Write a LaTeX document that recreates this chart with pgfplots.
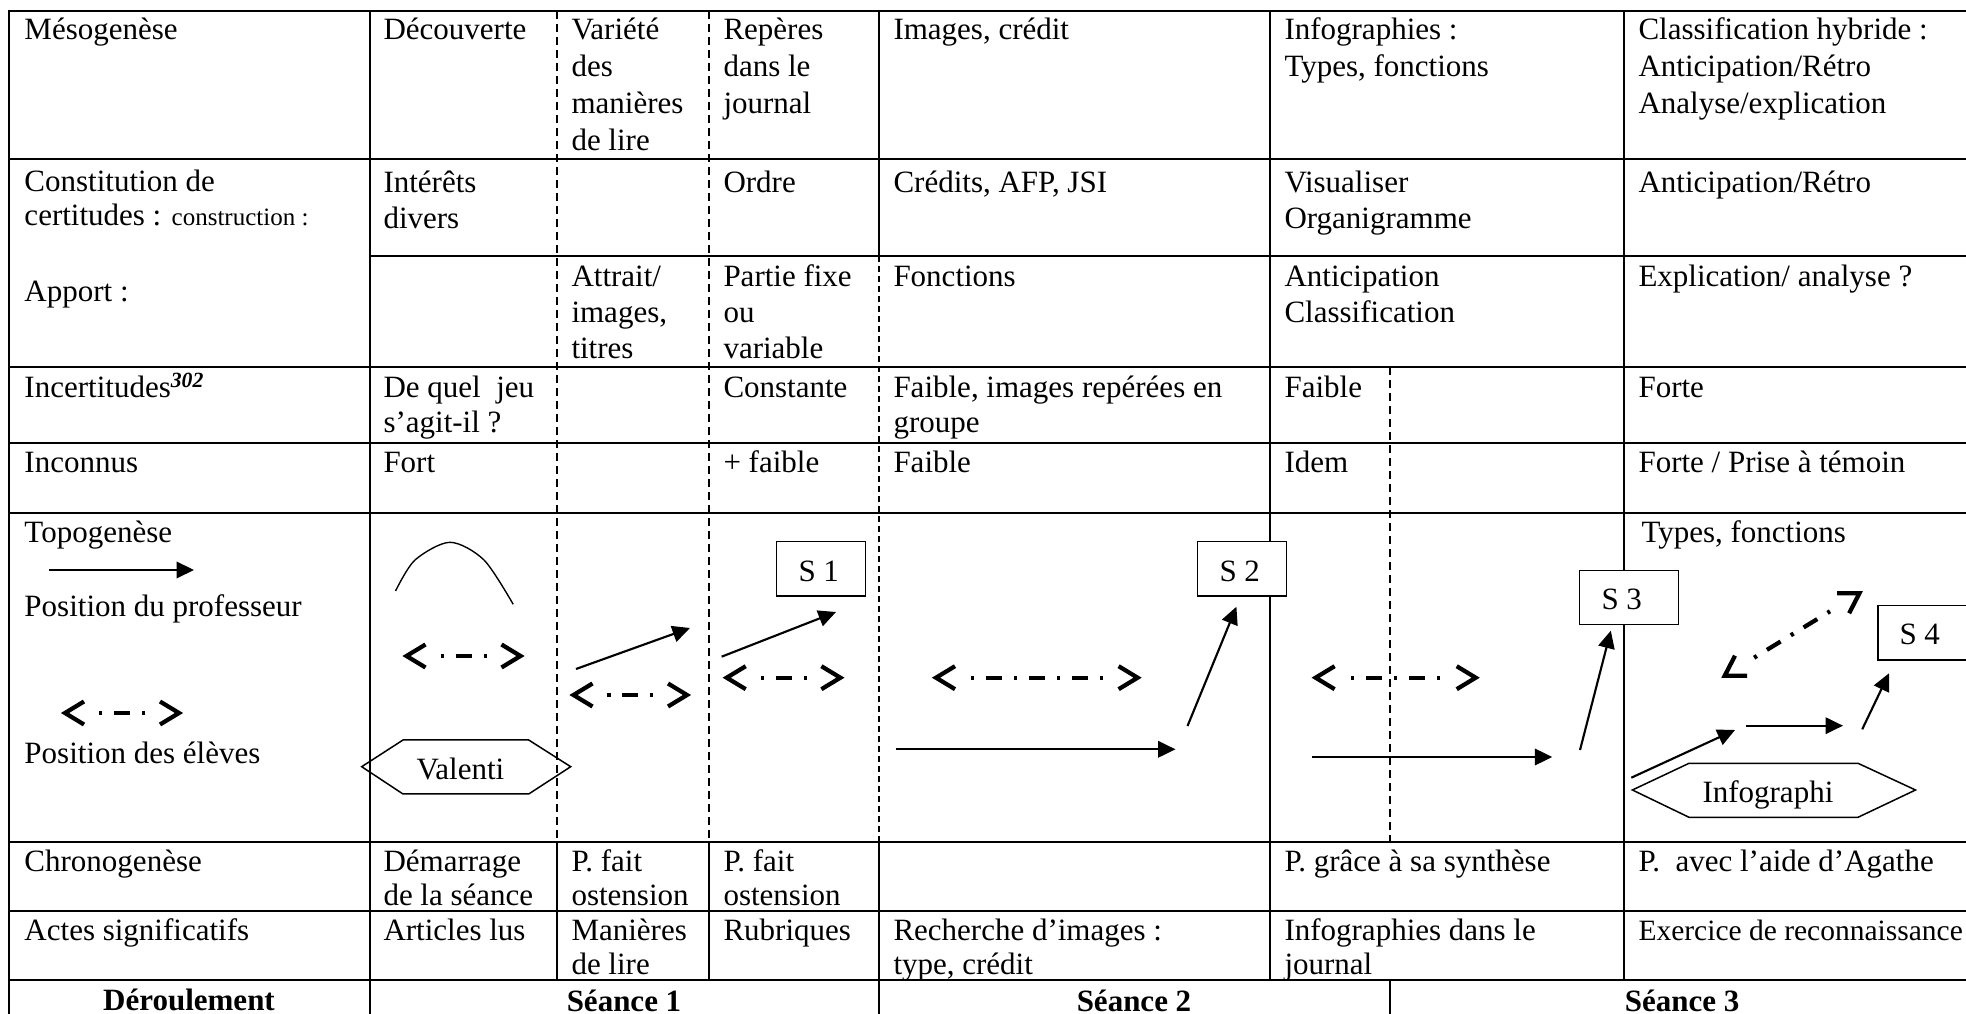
\documentclass[border=0pt]{standalone}
\usepackage{fontspec}
\setmainfont{Liberation Serif}
\usepackage{pgfplots}
\pgfplotsset{compat=1.18}
\usetikzlibrary{arrows.meta}
\newcommand{\tx}[3]{\node[anchor=base west,inner sep=0pt] at (axis cs:#1,#2) {#3};}
\newcommand{\tc}[3]{\node[anchor=base,inner sep=0pt] at (axis cs:#1,#2) {#3};}
\tikzset{
  sarrow/.style={black, line width=0.85pt, -{Triangle[length=7pt,width=6.6pt]}},
  shaft/.style={black, line width=1.7pt, dash pattern=on 1.3pt off 4.7pt on 6.4pt off 4.8pt},
  chev/.style={black, line width=1.7pt, line join=miter},
  thindash/.style={black, line width=0.5pt, dash pattern=on 3.2pt off 2pt},
}
\begin{document}
\begin{tikzpicture}[font=\fontsize{12.4}{14}\selectfont]
\begin{axis}[name=ax, hide axis, scale only axis, width=786.4pt, height=405.6pt,
  xmin=0, xmax=1966, ymin=0, ymax=1014, y dir=reverse, clip=true]

% ---- table grid, solid lines
\addplot[black, line width=0.95pt, line cap=rect, unbounded coords=jump] coordinates {
(9,11)(1990,11) (nan,nan)
(9,159)(1990,159) (nan,nan)
(370,256)(1990,256) (nan,nan)
(9,367)(1990,367) (nan,nan)
(9,443)(1990,443) (nan,nan)
(9,513)(1990,513) (nan,nan)
(9,842)(1990,842) (nan,nan)
(9,911)(1990,911) (nan,nan)
(9,980)(1990,980) (nan,nan)
(9,11)(9,1030) (nan,nan)
(370,11)(370,1030) (nan,nan)
(879,11)(879,256) (nan,nan)
(879,842)(879,1030) (nan,nan)
(1270,11)(1270,980) (nan,nan)
(1624,11)(1624,980) (nan,nan)
(557,842)(557,980) (nan,nan)
(709,842)(709,980) (nan,nan)
(1390,980)(1390,1030)
};
% ---- dashed lines
\addplot[thindash] coordinates {(557,11)(557,842)};
\addplot[thindash] coordinates {(709,11)(709,842)};
\addplot[black, line width=0.9pt, dash pattern=on 2.4pt off 1.6pt] coordinates {(879,256)(879,842)};
\addplot[thindash] coordinates {(1390,367)(1390,842)};

% ---- left column
\tx{24}{40}{Mésogenèse}
\tx{24}{192}{Constitution de}
\tx{24}{226}{certitudes : {\fontsize{10}{12}\selectfont construction :}}
\tx{24}{302}{Apport :}
\tx{24}{398}{Incertitudes\textsuperscript{\textbf{\textit{302}}}}
\tx{24}{473}{Inconnus}
\tx{24}{543}{Topogenèse}
\tx{24}{617}{Position du professeur}
\tx{24}{763}{Position des élèves}
\tx{24}{871}{Chronogenèse}
\tx{24}{940}{Actes significatifs}
\tc{189}{1010}{\textbf{Déroulement}}

% ---- column A
\tx{383}{40}{Découverte}
\tx{383}{193}{Intérêts}
\tx{383}{229}{divers}
\tx{383}{398}{De quel~ jeu}
\tx{383}{433}{s’agit-il ?}
\tx{383}{473}{Fort}
\tx{383}{871}{Démarrage}
\tx{383}{905}{de la séance}
\tx{383}{940}{Articles lus}

% ---- column B
\tx{571}{40}{Variété}
\tx{571}{77}{des}
\tx{571}{114}{manières}
\tx{571}{151}{de lire}
\tx{571}{287}{Attrait/}
\tx{571}{323}{images,}
\tx{571}{359}{titres}
\tx{571}{871}{P. fait}
\tx{571}{905}{ostension}
\tx{571}{940}{Manières}
\tx{571}{974}{de lire}

% ---- column C
\tx{723}{40}{Repères}
\tx{723}{77}{dans le}
\tx{723}{114}{journal}
\tx{723}{193}{Ordre}
\tx{723}{287}{Partie fixe}
\tx{723}{323}{ou}
\tx{723}{359}{variable}
\tx{723}{398}{Constante}
\tx{723}{473}{+ faible}
\tx{723}{871}{P. fait}
\tx{723}{905}{ostension}
\tx{723}{940}{Rubriques}

% ---- column D
\tx{893}{40}{Images, crédit}
\tx{893}{193}{Crédits, AFP, JSI}
\tx{893}{287}{Fonctions}
\tx{893}{398}{Faible, images repérées en}
\tx{893}{433}{groupe}
\tx{893}{473}{Faible}
\tx{893}{940}{Recherche d’images :}
\tx{893}{974}{type, crédit}

% ---- column E
\tx{1284}{40}{Infographies :}
\tx{1284}{77}{Types, fonctions}
\tx{1284}{193}{Visualiser}
\tx{1284}{229}{Organigramme}
\tx{1284}{287}{Anticipation}
\tx{1284}{323}{Classification}
\tx{1284}{398}{Faible}
\tx{1284}{473}{Idem}
\tx{1284}{871}{P. grâce à sa synthèse}
\tx{1284}{940}{Infographies dans le}
\tx{1284}{974}{journal}

% ---- column F
\tx{1638}{40}{Classification hybride :}
\tx{1638}{77}{Anticipation/Rétro}
\tx{1638}{114}{Analyse/explication}
\tx{1638}{193}{Anticipation/Rétro}
\tx{1638}{287}{Explication/ analyse ?}
\tx{1638}{398}{Forte}
\tx{1638}{473}{Forte / Prise à témoin}
\tx{1641}{543}{Types, fonctions}
\tx{1638}{871}{P.~ avec l’aide d’Agathe}
\tx{1638}{940}{{\fontsize{11.8}{14}\selectfont Exercice de reconnaissance}}

% ---- bottom row
\tc{624}{1011}{\textbf{Séance 1}}
\tc{1134}{1011}{\textbf{Séance 2}}
\tc{1682}{1011}{\textbf{Séance 3}}

% ---- Topogenese diagrams: arc
\addplot[black, line width=0.55pt, smooth] coordinates {(395.5,591) (415,560) (450,542.3) (484,560) (513.2,604.3)};

% ---- solid arrows
\addplot[sarrow] coordinates {(49,570) (194,570)};
\addplot[sarrow] coordinates {(576,669) (690,628)};
\addplot[sarrow] coordinates {(721.6,656.7) (836,612)};
\addplot[sarrow] coordinates {(895.5,749.3) (1175.5,749.3)};
\addplot[sarrow] coordinates {(1187.5,726) (1236.4,606.7)};
\addplot[sarrow] coordinates {(1312,757) (1552.3,757)};
\addplot[sarrow] coordinates {(1580,750) (1610.8,630.7)};
\addplot[sarrow] coordinates {(1631.3,777.7) (1735,730)};
\addplot[sarrow] coordinates {(1746,725.7) (1843,725.7)};
\addplot[sarrow] coordinates {(1862.2,729.3) (1889,673.3)};

% ---- dash-dot double arrows: shafts
\addplot[shaft] coordinates {(99,713) (145,713)};
\addplot[shaft] coordinates {(440.5,656) (486.5,656)};
\addplot[shaft] coordinates {(607.25,695) (653.25,695)};
\addplot[shaft] coordinates {(760.5,677.7) (806.5,677.7)};
\addplot[shaft] coordinates {(970.8,677.7) (1102.8,677.7)};
\addplot[shaft] coordinates {(1351.1,677.7) (1440.1,677.7)};
\addplot[shaft] coordinates {(1754.1,657.7) (1830.0,611.3)};
% ---- chevrons
\addplot[chev] coordinates {(84,701.5) (65,713) (84,724.5)};
\addplot[chev] coordinates {(160,701.5) (179,713) (160,724.5)};
\addplot[chev] coordinates {(425.5,644.5) (406.5,656) (425.5,667.5)};
\addplot[chev] coordinates {(501.5,644.5) (520.5,656) (501.5,667.5)};
\addplot[chev] coordinates {(592.5,683.5) (573.5,695) (592.5,706.5)};
\addplot[chev] coordinates {(668,683.5) (687,695) (668,706.5)};
\addplot[chev] coordinates {(745.7,666.2) (726.7,677.7) (745.7,689.2)};
\addplot[chev] coordinates {(821.4,666.2) (840.4,677.7) (821.4,689.2)};
\addplot[chev] coordinates {(955,666.2) (936,677.7) (955,689.2)};
\addplot[chev] coordinates {(1118.6,666.2) (1137.6,677.7) (1118.6,689.2)};
\addplot[chev] coordinates {(1334.6,666.2) (1315.6,677.7) (1334.6,689.2)};
\addplot[chev] coordinates {(1456.7,666.2) (1475.7,677.7) (1456.7,689.2)};
\addplot[chev] coordinates {(1747.0,675.8) (1724.7,675.7) (1735.0,655.7)};
\addplot[chev] coordinates {(1849.1,613.3) (1859.4,593.3) (1837.1,593.2)};

% ---- boxes
\addplot[black, line width=0.6pt, fill=white] coordinates {(776.7,541.7) (865.5,541.7) (865.5,596) (776.7,596)} -- cycle;
\addplot[black, line width=0.6pt, fill=white] coordinates {(1197.5,541.7) (1286.3,541.7) (1286.3,596) (1197.5,596)} -- cycle;
\addplot[black, line width=0.6pt, fill=white] coordinates {(1579.5,570.3) (1678.4,570.3) (1678.4,624.3) (1579.5,624.3)} -- cycle;
\addplot[black, line width=0.6pt, fill=white] coordinates {(1878,605.7) (1978,605.7) (1978,660) (1878,660)} -- cycle;
\tx{798}{582}{S 1}
\tx{1219}{582}{S 2}
\tx{1601}{610}{S 3}
\tx{1899}{645}{S 4}

% ---- hexagons
\addplot[black, line width=0.6pt] coordinates {(361.7,766.7) (403,740) (528.7,740) (570.7,766.7) (528.7,794) (403,794)} -- cycle;
\tx{416}{780}{Valenti}
\addplot[black, line width=0.6pt] coordinates {(1632.4,790) (1689,763.3) (1858,763.3) (1915.5,790) (1858,817.3) (1689,817.3)} -- cycle;
\tx{1702}{803}{Infographi}

\end{axis}
\pgfresetboundingbox
\path (ax.south west) rectangle (ax.north east);
\end{tikzpicture}
\end{document}
